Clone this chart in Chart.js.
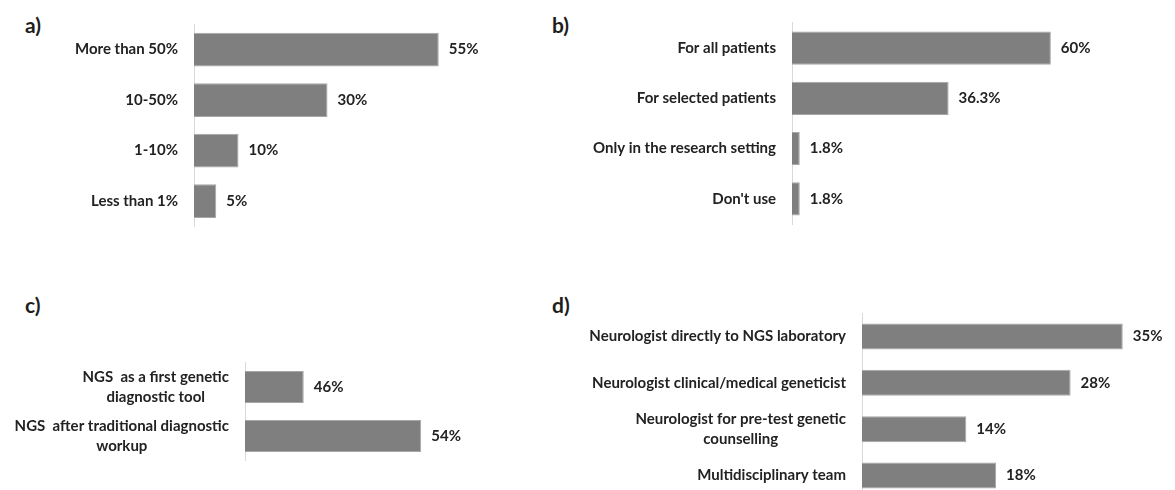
<!DOCTYPE html>
<html>
<head>
<meta charset="utf-8">
<script src="https://cdn.jsdelivr.net/npm/chart.js@4"></script>
<style>
  html, body { margin: 0; padding: 0; background: #fff; overflow: hidden; }
  body { width: 1175px; height: 490px; position: relative; }
  canvas { position: absolute; }
  .tag { position: absolute; font: bold 21px Lato, sans-serif; color: #1e1e1e; line-height: 1; }
</style>
</head>
<body>
<div class="tag" style="left:25px;top:14px">a)</div>
<div class="tag" style="left:552px;top:14px">b)</div>
<div class="tag" style="left:25px;top:294px">c)</div>
<div class="tag" style="left:552px;top:294px">d)</div>
<canvas id="chartA" width="540" height="245" style="left:0;top:0"></canvas>
<canvas id="chartB" width="635" height="245" style="left:540px;top:0"></canvas>
<canvas id="chartC" width="540" height="245" style="left:0;top:245px"></canvas>
<canvas id="chartD" width="635" height="265" style="left:540px;top:245px"></canvas>
<script>
const labelsA = ['More than 50%', '10-50%', '1-10%', 'Less than 1%'];
const valuesA = [55, 30, 10, 5];

const labelsB = ['For all patients', 'For selected patients', 'Only in the research setting', "Don't use"];
const valuesB = [60, 36.3, 1.8, 1.8];

const labelsC = [['NGS  as a first genetic', 'diagnostic tool'], ['NGS  after traditional diagnostic', 'workup']];
const valuesC = [46, 54];

const labelsD = ['Neurologist directly to NGS laboratory', 'Neurologist clinical/medical geneticist',
    ['Neurologist for pre-test genetic', 'counselling'], 'Multidisciplinary team'];
const valuesD = [35, 28, 14, 18];

const textFont = 'bold 15px Lato';
const textColor = '#222';

// category names left of the axis, value labels right of the bars
const barText = {
    id: 'barText',
    afterDatasetsDraw(chart) {
        const ctx = chart.ctx;
        const xs = chart.scales.x;
        const ys = chart.scales.y;
        ctx.save();
        ctx.font = textFont;
        ctx.fillStyle = textColor;
        ctx.textBaseline = 'middle';
        chart.data.labels.forEach((lab, i) => {
            const lines = Array.isArray(lab) ? lab : [lab];
            const cy = ys.getPixelForValue(i);
            const w = Math.max(...lines.map(l => ctx.measureText(l).width));
            const cx = chart.chartArea.left - 16 - w / 2;
            ctx.textAlign = 'center';
            lines.forEach((l, k) => {
                ctx.fillText(l, cx, cy + (k - (lines.length - 1) / 2) * 20);
            });
            const v = chart.data.datasets[0].data[i];
            ctx.textAlign = 'left';
            ctx.fillText(v + '%', xs.getPixelForValue(v) + 10, cy);
        });
        ctx.restore();
    }
};

function makeChart(id, labels, values, min, max, pad, barPct) {
    const ctx = document.getElementById(id).getContext('2d');
    return new Chart(ctx, {
        type: 'bar',
        data: {
            labels: labels,
            datasets: [{
                data: values,
                backgroundColor: '#7f7f7f',
                borderColor: '#a6a6a6',
                borderWidth: 1,
                categoryPercentage: 1,
                barPercentage: barPct
            }]
        },
        options: {
            indexAxis: 'y',
            responsive: false,
            animation: false,
            layout: { padding: pad },
            plugins: { legend: { display: false }, tooltip: { enabled: false } },
            scales: {
                x: { display: false, min: min, max: max },
                y: {
                    grid: { display: false, drawTicks: false },
                    border: { display: true, color: '#d9d9d9', width: 1 },
                    ticks: { display: false }
                }
            }
        },
        plugins: [barText]
    });
}

const chartA = makeChart('chartA', labelsA, valuesA, 0, 60,
    { left: 194, right: 79, top: 24.4, bottom: 18.7 }, 0.667);
const chartB = makeChart('chartB', labelsB, valuesB, 0, 70,
    { left: 252, right: 81, top: 22.9, bottom: 21 }, 0.66);
const chartC = makeChart('chartC', labelsC, valuesC, 42, 58,
    { left: 245, right: 60, top: 117.5, bottom: 29.5 }, 0.653);
const chartD = makeChart('chartD', labelsD, valuesD, 0, 40,
    { left: 322, right: 15, top: 68.3, bottom: 11.3 }, 0.56);
</script>
</body>
</html>
